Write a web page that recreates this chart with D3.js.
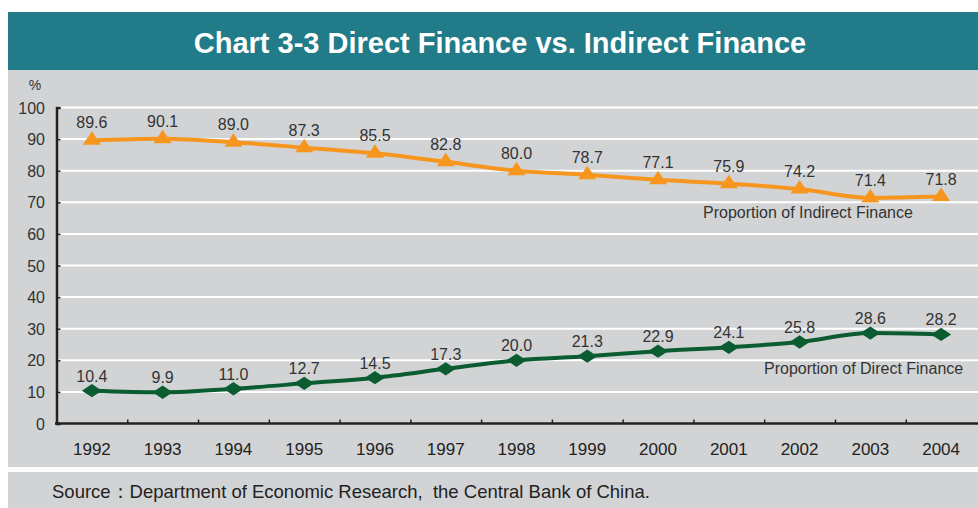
<!DOCTYPE html>
<html>
<head>
<meta charset="utf-8">
<script src="https://cdn.jsdelivr.net/npm/d3@7"></script>
<style>
  body { margin: 0; background: #fff; }
  svg { display: block; font-family: "Liberation Sans", Arial, sans-serif; }
</style>
</head>
<body>
<div id="chart"></div>
<script>
// Data
const years = ["1992", "1993", "1994", "1995", "1996", "1997", "1998", "1999", "2000", "2001", "2002", "2003", "2004"];
const indirect = [89.6, 90.1, 89.0, 87.3, 85.5, 82.8, 80.0, 78.7, 77.1, 75.9, 74.2, 71.4, 71.8];
const direct = [10.4, 9.9, 11.0, 12.7, 14.5, 17.3, 20.0, 21.3, 22.9, 24.1, 25.8, 28.6, 28.2];
const yTicks = [0, 10, 20, 30, 40, 50, 60, 70, 80, 90, 100];

const W = 978, H = 508;
const svg = d3.select("#chart").append("svg")
    .attr("width", W)
    .attr("height", H);

// Background panels
svg.append("rect").attr("x", 8).attr("y", 70).attr("width", W - 8).attr("height", 397).attr("fill", "#d2d3d5");
svg.append("rect").attr("x", 8).attr("y", 472).attr("width", W - 8).attr("height", 36).attr("fill", "#d2d3d5");
svg.append("rect").attr("x", 8).attr("y", 12).attr("width", W - 8).attr("height", 58).attr("fill", "#217b88");

svg.append("text")
    .attr("x", 500).attr("y", 53)
    .attr("text-anchor", "middle")
    .attr("fill", "#fff")
    .style("font-size", "29px")
    .style("font-weight", "bold")
    .text("Chart 3-3 Direct Finance vs. Indirect Finance");

// Scales
const x = d3.scaleBand().domain(years).range([56.5, 976.5]);
const y = d3.scaleLinear().domain([0, 100]).range([423.5, 107.5]);

// Gridlines
svg.append("g")
    .selectAll("line")
    .data(yTicks.filter(d => d > 0))
    .join("line")
    .attr("x1", 57).attr("x2", W)
    .attr("y1", d => y(d)).attr("y2", d => y(d))
    .attr("stroke", "#fff")
    .attr("stroke-width", 2);

// Y axis
const yAxis = svg.append("g")
    .attr("transform", "translate(56.5,0)")
    .call(d3.axisRight(y).tickValues(yTicks).tickSize(4).tickFormat(""));
yAxis.select(".domain").attr("stroke", "#222").attr("stroke-width", 2.5);
yAxis.selectAll(".tick line").attr("stroke", "#222").attr("stroke-width", 1.5);

svg.append("g")
    .selectAll("text")
    .data(yTicks)
    .join("text")
    .attr("x", 45)
    .attr("y", d => y(d) + 6)
    .attr("text-anchor", "end")
    .attr("fill", "#333")
    .style("font-size", "16px")
    .text(d => d);

svg.append("text")
    .attr("x", 35).attr("y", 90)
    .attr("text-anchor", "middle")
    .attr("fill", "#333")
    .style("font-size", "14px")
    .text("%");

// X axis
const xAxis = svg.append("g")
    .attr("transform", "translate(0,423.5)")
    .call(d3.axisTop(d3.scaleLinear().domain([0, 13]).range([56.5, 976.5]))
        .tickValues(d3.range(1, 13))
        .tickSize(4)
        .tickFormat(""));
xAxis.select(".domain").remove();
xAxis.selectAll(".tick line").attr("stroke", "#222").attr("stroke-width", 1.5);
svg.append("line")
    .attr("x1", 55).attr("x2", W)
    .attr("y1", 423.5).attr("y2", 423.5)
    .attr("stroke", "#222").attr("stroke-width", 2.5);

svg.append("g")
    .selectAll("text")
    .data(years)
    .join("text")
    .attr("x", d => x(d) + x.bandwidth() / 2)
    .attr("y", 455)
    .attr("text-anchor", "middle")
    .attr("fill", "#222")
    .style("font-size", "17px")
    .text(d => d);

// Lines
const cx = i => x(years[i]) + x.bandwidth() / 2;
const line = d3.line().x((d, i) => cx(i)).y(d => y(d)).curve(d3.curveMonotoneX);

const series = [
    { values: indirect, color: "#f7961e", symbol: d3.symbolTriangle, size: 130, sx: 1.05, sy: 0.9, rot: 0, dy: -12 },
    { values: direct, color: "#0b5c31", symbol: d3.symbolSquare, size: 110, sx: 1.35, sy: 0.9, rot: 45, dy: -9 }
];

series.forEach(s => {
    svg.append("path")
        .datum(s.values)
        .attr("d", line)
        .attr("fill", "none")
        .attr("stroke", s.color)
        .attr("stroke-width", 4);

    svg.append("g")
        .selectAll("path")
        .data(s.values)
        .join("path")
        .attr("transform", (d, i) => "translate(" + cx(i) + "," + y(d) + ") scale(" + s.sx + "," + s.sy + ") rotate(" + s.rot + ")")
        .attr("d", d3.symbol().type(s.symbol).size(s.size))
        .attr("fill", s.color);

    svg.append("g")
        .selectAll("text")
        .data(s.values)
        .join("text")
        .attr("x", (d, i) => cx(i))
        .attr("y", d => y(d) + s.dy)
        .attr("text-anchor", "middle")
        .attr("fill", "#333")
        .style("font-size", "16px")
        .text(d => d.toFixed(1));
});

// Series labels
svg.append("text")
    .attr("x", 703).attr("y", 218)
    .attr("fill", "#333")
    .style("font-size", "16px")
    .text("Proportion of Indirect Finance");

svg.append("text")
    .attr("x", 764).attr("y", 374)
    .attr("fill", "#333")
    .style("font-size", "16px")
    .text("Proportion of Direct Finance");

// Source
svg.append("text")
    .attr("x", 52).attr("y", 498)
    .attr("fill", "#222")
    .style("font-size", "18.5px")
    .style("white-space", "pre")
    .text("Source：Department of Economic Research,  the Central Bank of China.");
</script>
</body>
</html>
